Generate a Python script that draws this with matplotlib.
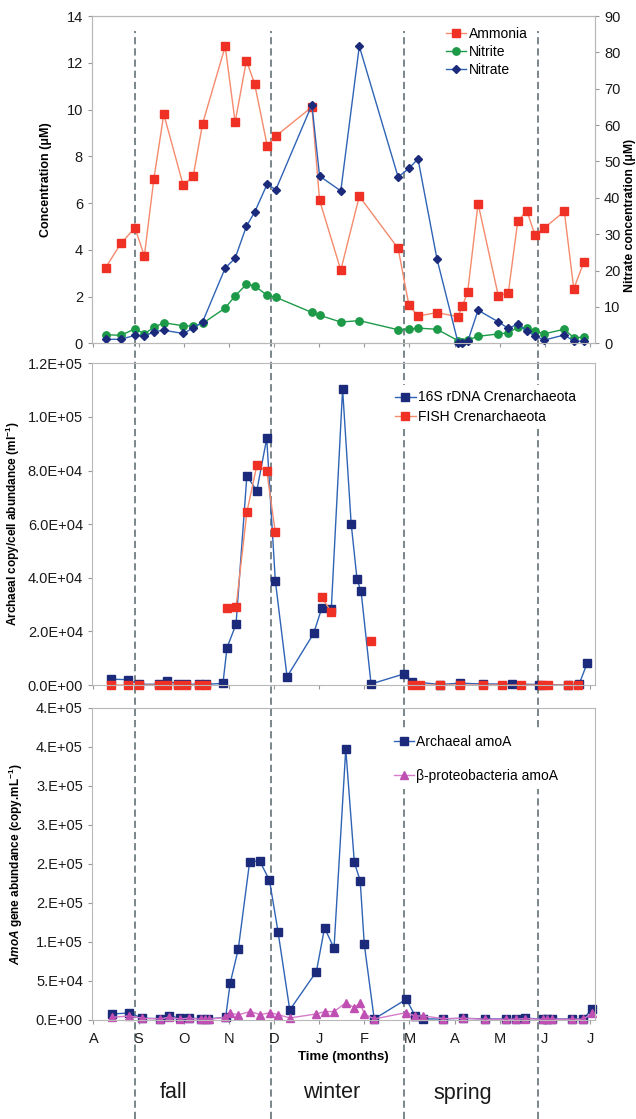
import numpy as np
import matplotlib
matplotlib.use('Agg')
import matplotlib.pyplot as plt
from matplotlib.lines import Line2D
from matplotlib import transforms

plt.rcParams['font.family'] = 'Liberation Sans'
plt.rcParams['mathtext.fontset'] = 'custom'
plt.rcParams['mathtext.rm'] = 'Liberation Sans:bold'
plt.rcParams['mathtext.it'] = 'Liberation Sans:italic:bold'
plt.rcParams['mathtext.bf'] = 'Liberation Sans:bold'

# ---- data (x in months after 1 August) ----
months = ['A', 'S', 'O', 'N', 'D', 'J', 'F', 'M', 'A', 'M', 'J', 'J']
season_breaks = [0.93, 3.94, 6.88, 9.85]
seasons = ['fall', 'winter', 'spring']
season_x = [1.78, 5.27, 8.19]

x_nut = [0.27, 0.61, 0.92, 1.13, 1.34, 1.56, 1.99, 2.21, 2.42, 2.92, 3.14, 3.39,
         3.57, 3.85, 4.04, 4.84, 5.01, 5.48, 5.89, 6.75, 6.99, 7.19, 7.61, 8.08,
         8.17, 8.29, 8.52, 8.97, 9.19, 9.40, 9.60, 9.78, 9.99, 10.43, 10.64, 10.86]
ammonia = [3.23, 4.27, 4.94, 3.74, 7.03, 9.8, 6.76, 7.14, 9.4, 12.7, 9.46, 12.09,
           11.11, 8.46, 8.86, 10.11, 6.12, 3.13, 6.29, 4.06, 1.62, 1.17, 1.31, 1.14,
           1.58, 2.19, 5.98, 2.02, 2.16, 5.23, 5.67, 4.64, 4.94, 5.64, 2.33, 3.46]
nitrite = [0.37, 0.34, 0.62, 0.41, 0.68, 0.88, 0.75, 0.73, 0.85, 1.51, 2.03, 2.52,
           2.46, 2.05, 1.97, 1.32, 1.2, 0.91, 0.97, 0.58, 0.6, 0.65, 0.6, 0.11,
           0.07, 0.14, 0.3, 0.4, 0.45, 0.68, 0.64, 0.51, 0.41, 0.6, 0.24, 0.26]
nitrate = [1.1, 1.1, 2.2, 1.9, 3.2, 3.6, 2.7, 4.2, 5.9, 20.7, 23.4, 32.2,
           36.0, 43.8, 42.2, 65.6, 46.0, 41.9, 81.7, 45.7, 48.1, 50.7, 23.2, 0.0,
           0.2, 0.5, 9.1, 5.9, 4.1, 5.3, 3.4, 2.0, 0.9, 2.3, 0.6, 0.6]

x_16s = [0.39, 0.76, 1.02, 1.45, 1.63, 1.87, 2.06, 2.35, 2.49, 2.87, 2.96, 3.16,
         3.40, 3.62, 3.84, 4.03, 4.29, 4.88, 5.06, 5.27, 5.52, 5.71, 5.84, 5.93,
         6.15, 6.87, 7.05, 7.68, 8.11, 8.62, 9.27, 9.88, 10.52, 10.76, 10.94]
cren_16s = [2200, 2000, 300, 300, 1400, 500, 300, 300, 300, 600, 13900, 22700,
            78000, 72500, 92000, 38900, 3100, 19300, 28800, 28500, 110400, 60200, 39400, 34900,
            400, 4100, 1300, 200, 700, 400, 400, 200, 100, 400, 8300]
x_fish = [0.39, 0.76, 1.02, 1.45, 1.63, 1.87, 2.06, 2.35, 2.49, 2.7, 2.96, 3.16,
          3.40, 3.62, 3.84, 4.03, 4.5, 5.06, 5.27, 5.7, 6.15, 6.6, 7.05, 7.24,
          7.68, 8.11, 8.62, 9.05, 9.47, 9.93, 10.08, 10.52, 10.74]
cren_fish = [0, 0, 0, 0, 0, 0, 0, 0, 0, np.nan, 28600, 29000,
             64500, 81900, 79900, 57000, np.nan, 32700, 27200, np.nan, 16300, np.nan, 0, 0,
             0, 0, 0, 0, 0, 0, 0, 0, 0]

x_arch = [0.42, 0.80, 1.08, 1.48, 1.67, 1.91, 2.11, 2.39, 2.55, 2.93, 3.03, 3.21,
          3.46, 3.68, 3.90, 4.09, 4.35, 4.94, 5.12, 5.33, 5.59, 5.78, 5.91, 6.00,
          6.22, 6.93, 7.13, 7.31, 7.75, 8.18, 8.68, 9.13, 9.35, 9.56, 9.95, 10.04,
          10.15, 10.60, 10.85, 11.04]
amoa_arch = [7700, 9000, 2200, 1700, 5100, 2600, 2600, 1300, 1300, 3500, 47000, 91000,
             202000, 204000, 179000, 113000, 12800, 62000, 118000, 92000, 347000, 202000, 178000, 97000,
             1300, 26500, 5000, 1300, 1300, 2200, 1300, 1300, 1300, 2200, 1300, 1300,
             1300, 1300, 1300, 13700]
x_beta = [0.41, 0.80, 1.08, 1.48, 1.67, 1.91, 2.11, 2.39, 2.48, 2.57, 2.92, 3.03,
          3.21, 3.48, 3.70, 3.92, 4.09, 4.35, 4.94, 5.12, 5.33, 5.59, 5.78, 5.91,
          6.00, 6.22, 6.93, 7.13, 7.31, 7.75, 8.18, 8.68, 9.13, 9.35, 9.56, 9.95,
          10.04, 10.15, 10.60, 10.85, 11.04]
amoa_beta = [3400, 5100, 2200, 1300, 3400, 1300, 2200, 900, 900, 900, 3400, 8500,
             6800, 10700, 6800, 9400, 6800, 2600, 7700, 10700, 10700, 22000, 15800, 22000,
             7700, 1300, 9400, 5100, 5100, 1700, 2200, 900, 900, 900, 1700, 900,
             900, 900, 900, 900, 8500]

mid_ticks = [0, 20000, 40000, 60000, 80000, 100000, 120000]
mid_labels = ['0.0E+00', '2.0E+04', '4.0E+04', '6.0E+04', '8.0E+04', '1.0E+05', '1.2E+05']
bot_ticks = [0, 50000, 100000, 150000, 200000, 250000, 300000, 350000, 400000]
bot_labels = ['0.E+00', '5.E+04', '1.E+05', '2.E+05', '2.E+05', '3.E+05', '3.E+05', '4.E+05', '4.E+05']

# ---- colours ----
red = '#ee3124'
orange = '#f58a6c'
green = '#1c9a48'
navy = '#1b2a7a'
blue = '#2f63b5'
magenta = '#c04fb4'
pink = '#d67ccb'
spine_c = '#b8b8b8'

fig = plt.figure(figsize=(6.36, 11.19), dpi=100)
L, W = 92 / 636, 503 / 636
ax1 = fig.add_axes([L, 0.6932, W, 0.2925])
ax2 = fig.add_axes([L, 0.3878, W, 0.2875])
ax3 = fig.add_axes([L, 0.0885, W, 0.2791])


def style(ax):
    ax.set_facecolor('none')
    ax.set_xlim(-0.03, 11.11)
    ax.set_xticks(range(12))
    for s in ax.spines.values():
        s.set_color(spine_c)
        s.set_linewidth(0.8)
    ax.tick_params(colors='#999999', labelcolor='#1a1a1a', length=3, width=0.8,
                   labelsize=10.5, direction='out')


for ax in (ax1, ax2, ax3):
    style(ax)

# top panel: nutrients
ax1.plot(x_nut, ammonia, color=orange, lw=1, marker='s', ms=5.3, mfc=red, mec=red,
         clip_on=False, label='Ammonia')
ax1.plot(x_nut, nitrite, color=green, lw=1, marker='o', ms=5.3, mfc=green, mec=green,
         clip_on=False, label='Nitrite')
ax1.set_ylim(0, 14)
ax1.set_yticks(range(0, 15, 2))
ax1.tick_params(axis='x', labelbottom=False)
ax1.set_ylabel('Concentration (μM)', fontweight='bold', fontsize=9)
ax1.yaxis.set_label_coords(-0.079, 0.5)

ax1b = ax1.twinx()
ax1b.plot(x_nut, nitrate, color=blue, lw=1, marker='D', ms=4.2, mfc=navy, mec=navy,
          clip_on=False, label='Nitrate')
ax1b.set_ylim(0, 90)
ax1b.set_yticks(range(0, 91, 10))
for s in ax1b.spines.values():
    s.set_color(spine_c)
    s.set_linewidth(0.8)
ax1b.tick_params(colors='#999999', labelcolor='#1a1a1a', length=3, width=0.8,
                 labelsize=10.5)
ax1b.set_ylabel('Nitrate concentration (μM)', fontweight='bold', fontsize=8.8)
ax1b.yaxis.set_label_coords(1.058, 0.39)
h1, l1 = ax1.get_legend_handles_labels()
h2, l2 = ax1b.get_legend_handles_labels()
ax1b.legend(h1 + h2, l1 + l2, loc='upper left', bbox_to_anchor=(0.693, 0.981),
            bbox_transform=fig.transFigure, fontsize=10, frameon=True, facecolor='white',
            edgecolor='none', framealpha=1, fancybox=False, borderaxespad=0,
            handlelength=1.45, handletextpad=0.15, labelspacing=0.3, borderpad=0.4)

# middle panel: Crenarchaeota abundance
ax2.plot(x_16s, cren_16s, color=blue, lw=1, marker='s', ms=5.3, mfc=navy, mec=navy,
         clip_on=False, label='16S rDNA Crenarchaeota')
ax2.plot(x_fish, cren_fish, color=orange, lw=1, marker='s', ms=5.3, mfc=red, mec=red,
         clip_on=False, label='FISH Crenarchaeota')
ax2.set_ylim(0, 120000)
ax2.set_yticks(mid_ticks)
ax2.set_yticklabels(mid_labels)
ax2.tick_params(axis='x', labelbottom=False)
ax2.set_ylabel('Archaeal copy/cell abundance (ml$^{-1}$)', fontweight='bold', fontsize=8.5)
ax2.yaxis.set_label_coords(-0.139, 0.5)
ax2.legend(loc='upper left', bbox_to_anchor=(0.613, 0.656), bbox_transform=fig.transFigure,
           fontsize=10, frameon=True, facecolor='white', edgecolor='none', framealpha=1,
           fancybox=False, borderaxespad=0, handlelength=1.45, handletextpad=0.2,
           labelspacing=0.37, borderpad=0.4)

# bottom panel: amoA genes
ax3.plot(x_arch, amoa_arch, color=blue, lw=1, marker='s', ms=5.3, mfc=navy, mec=navy,
         clip_on=False, label='Archaeal amoA')
ax3.plot(x_beta, amoa_beta, color=pink, lw=1, marker='^', ms=5.3, mfc=magenta, mec=magenta,
         clip_on=False, label='β-proteobacteria amoA')
ax3.set_ylim(0, 400000)
ax3.set_yticks(bot_ticks)
ax3.set_yticklabels(bot_labels)
ax3.set_xticklabels(months)
ax3.tick_params(axis='x', pad=6, labelsize=10.5)
ax3.set_ylabel('$\\mathit{AmoA}$ gene abundance (copy.mL$^{-1}$)', fontweight='bold', fontsize=8.5)
ax3.yaxis.set_label_coords(-0.133, 0.5)
ax3.set_xlabel('Time (months)', fontweight='bold', fontsize=9.5)
ax3.xaxis.set_label_coords(0.5, -0.1)
ax3.legend(loc='upper left', bbox_to_anchor=(0.610, 0.348), bbox_transform=fig.transFigure,
           fontsize=10, frameon=True, facecolor='white', edgecolor='none', framealpha=1,
           fancybox=False, borderaxespad=0, handlelength=1.45, handletextpad=0.2,
           labelspacing=1.45, borderpad=0.4)

# season separators running through all panels
trans = transforms.blended_transform_factory(ax3.transData, fig.transFigure)
for xm in season_breaks:
    fig.add_artist(Line2D([xm, xm], [0, 0.972], transform=trans, color='#6f7d80',
                          lw=1.3, dashes=(4, 2.2), zorder=-1))

for name, xm in zip(seasons, season_x):
    fig.text(xm, 1 - 1093 / 1119, name, transform=trans, ha='center', va='center',
             fontsize=15.5, color='#1a1a1a')

fig.savefig('out.png', dpi=100)
